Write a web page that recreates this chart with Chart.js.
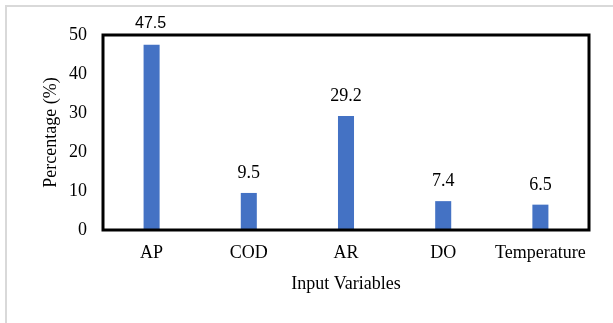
<!DOCTYPE html>
<html>
<head>
<meta charset="utf-8">
<script src="https://cdn.jsdelivr.net/npm/chart.js@4/dist/chart.umd.min.js"></script>
<style>
  html, body { margin: 0; padding: 0; background: #ffffff; overflow: hidden; }
  #wrap { position: relative; width: 613px; height: 323px; }
  #frame { position: absolute; left: 5px; top: 5px; width: 700px; height: 400px; border: 2px solid #d9d9d9; box-sizing: border-box; }
  canvas { position: absolute; left: 0; top: 0; }
</style>
</head>
<body>
<div id="wrap">
  <div id="frame"></div>
  <canvas id="c" width="613" height="323"></canvas>
</div>
<script>
const categories = ["AP", "COD", "AR", "DO", "Temperature"];
const percentages = [47.5, 9.5, 29.2, 7.4, 6.5];
const valueLabels = ["47.5", "9.5", "29.2", "7.4", "6.5"];
const yTicks = [0, 10, 20, 30, 40, 50];

const SERIF = "'Liberation Serif', 'Times New Roman', serif";
const SANS = "'Liberation Sans', Arial, sans-serif";

const frameAndLabels = {
  id: 'frameAndLabels',
  afterDatasetsDraw(chart) {
    const ctx = chart.ctx;
    const a = chart.chartArea;
    ctx.save();
    ctx.strokeStyle = '#000000';
    ctx.lineWidth = 3;
    ctx.strokeRect(a.left, a.top, a.right - a.left, a.bottom - a.top);
    const meta = chart.getDatasetMeta(0);
    ctx.fillStyle = '#000000';
    ctx.textAlign = 'center';
    ctx.textBaseline = 'alphabetic';
    meta.data.forEach((bar, i) => {
      if (i === 0) {
        ctx.font = "16px " + SANS;
        ctx.fillText(valueLabels[i], bar.x - 1, bar.y - 17);
      } else {
        ctx.font = "18px " + SERIF;
        ctx.fillText(valueLabels[i], bar.x, bar.y - 15);
      }
    });
    ctx.restore();
  }
};

new Chart(document.getElementById('c'), {
  type: 'bar',
  data: {
    labels: categories,
    datasets: [{
      data: percentages,
      backgroundColor: '#4472C4',
      borderWidth: 0,
      categoryPercentage: 1.0,
      barPercentage: 0.165
    }]
  },
  options: {
    responsive: false,
    animation: false,
    devicePixelRatio: 1,
    layout: { padding: { top: 35, right: 24, left: 0, bottom: 0 } },
    plugins: { legend: { display: false }, tooltip: { enabled: false } },
    scales: {
      x: {
        grid: { display: false, drawTicks: false, tickLength: 0 },
        border: { display: false },
        ticks: { font: { family: SERIF, size: 18 }, color: '#000000', padding: 12, maxRotation: 0, autoSkip: false },
        title: { display: true, text: 'Input Variables', font: { family: SERIF, size: 18 }, color: '#000000', padding: { top: 0, bottom: 28 } },
        afterFit(scale) { scale.height = 93; }
      },
      y: {
        min: 0, max: 50,
        grid: { display: false, drawTicks: false, tickLength: 0 },
        border: { display: false },
        afterBuildTicks(scale) { scale.ticks = yTicks.map(v => ({ value: v })); },
        ticks: { font: { family: SERIF, size: 18 }, color: '#000000', padding: 16 },
        title: { display: true, text: 'Percentage (%)', font: { family: SERIF, size: 18 }, color: '#000000', padding: { top: 40, bottom: 0 } },
        afterFit(scale) { scale.width = 103; }
      }
    }
  },
  plugins: [frameAndLabels]
});
</script>
</body>
</html>
